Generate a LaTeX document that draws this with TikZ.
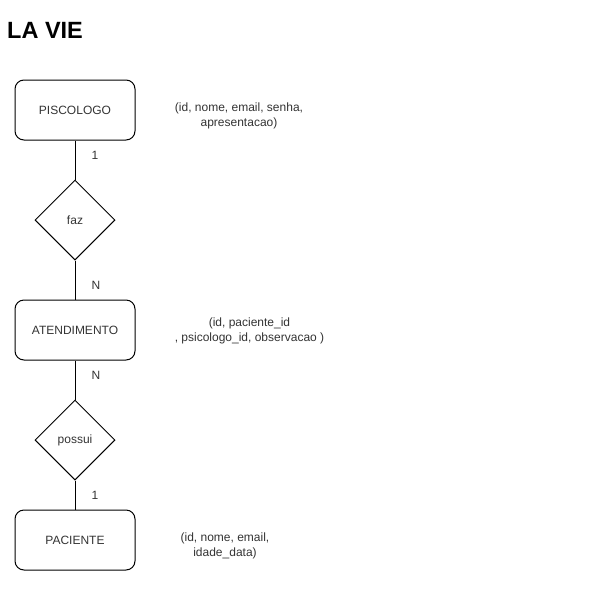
\documentclass[tikz,border=0pt]{standalone}
\usepackage{fontspec}
\setmainfont{Liberation Sans}
\usetikzlibrary{shapes.geometric}

\tikzset{
    entity/.style={draw,line width=1pt,rounded corners=9pt,minimum width=120pt,minimum height=60pt,text=black!80,font=\fontsize{12}{14.5}\selectfont},
    relation/.style={draw,line width=1pt,diamond,minimum size=80pt,inner sep=0pt,text=black!80,font=\fontsize{12}{14.5}\selectfont},
    attrs/.style={align=center,text=black!80,font=\fontsize{12}{15}\selectfont},
    card/.style={inner sep=0pt,anchor=west,xshift=16pt,text=black!80,font=\fontsize{12}{14.5}\selectfont}
}

\begin{document}
\begin{tikzpicture}[x=1pt,y=-1pt]
    \useasboundingbox (0,0) rectangle (599,614);

    % title
    \node[anchor=base west,inner sep=0pt,font=\fontsize{23.5}{28}\selectfont\bfseries] (title) at (7,38) {LA VIE};

    % entities
    \node[entity] (psicologo) at (75,110) {PISCOLOGO};
    \node[entity] (atendimento) at (75,330) {ATENDIMENTO};
    \node[entity] (paciente) at (75,540) {PACIENTE};

    % relations
    \node[relation] (faz) at (75,220) {faz};
    \node[relation] (possui) at (75,440) {possui};

    % attributes
    \node[attrs] (psicologoattrs) at (239,115.5) {(id, nome, email, senha,\\apresentacao)};
    \node[attrs] (atendimentoattrs) at (249.5,330.5) {(id, paciente\_id\\, psicologo\_id, observacao )};
    \node[attrs] (pacienteattrs) at (225,545.5) {(id, nome, email,\\idade\_data)};

    % links
    \draw[line width=1pt] (psicologo) -- node[card,pos=.375] {1} (faz);
    \draw[line width=1pt] (faz) -- node[card,pos=.625] {N} (atendimento);
    \draw[line width=1pt] (atendimento) -- node[card,pos=.375] {N} (possui);
    \draw[line width=1pt] (possui) -- node[card,pos=.5] {1} (paciente);
\end{tikzpicture}
\end{document}
